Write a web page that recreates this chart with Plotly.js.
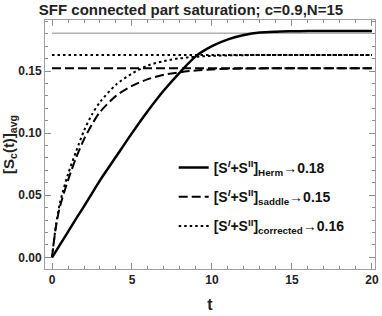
<!DOCTYPE html>
<html>
<head>
<meta charset="utf-8">
<script src="https://cdn.plot.ly/plotly-3.0.1.min.js"></script>
<style>html,body{margin:0;padding:0;background:#fff;}#chart{width:382px;height:316px;}</style>
</head>
<body>
<div id="chart"></div>
<script>
const t = [0,0.25,0.5,1,1.5,2,2.5,3,4,5,6,7,8,9,10,11,12,13,14,15,16,17,18,19,20];
const herm = [0,0.005,0.0102,0.0205,0.031,0.041,0.0515,0.062,0.081,0.100,0.118,0.1345,0.149,0.162,0.170,0.1755,0.179,0.181,0.1817,0.182,0.1822,0.1823,0.1823,0.1823,0.1823];
const saddle = [0,0.025,0.041,0.062,0.080,0.095,0.107,0.117,0.130,0.138,0.1435,0.147,0.149,0.1505,0.1513,0.1518,0.152,0.1521,0.1522,0.1522,0.1523,0.1523,0.1523,0.1523,0.1523];
const corrected = [0,0.026,0.044,0.067,0.085,0.102,0.115,0.125,0.139,0.148,0.1545,0.158,0.1603,0.1615,0.1622,0.1626,0.1628,0.1629,0.163,0.163,0.163,0.163,0.163,0.163,0.163];
const limitT = [0,20];
const hermLimit = 0.1805;
const saddleLimit = 0.1523;
const correctedLimit = 0.163;
const names = [
  "[S<sup><i>I</i></sup>+S<sup>II</sup>]<sub>Herm</sub>→0.18",
  "[S<sup><i>I</i></sup>+S<sup>II</sup>]<sub>saddle</sub>→0.15",
  "[S<sup><i>I</i></sup>+S<sup>II</sup>]<sub>corrected</sub>→0.16"
];
const xTicks = [0,5,10,15,20];
const yTicks = [0,0.05,0.10,0.15];
const yTickText = ["0.00","0.05","0.10","0.15"];

const FONT = "Liberation Sans Narrow, Arial Narrow, Liberation Sans, Arial, sans-serif";
const FONTW = "Liberation Sans, Arial, sans-serif";
const dashS = "9px,4px";
const dotS = "2.5px,3px";

const traces = [
  {x: limitT, y: limitT.map(()=>hermLimit), mode:'lines', line:{color:'#8a8a8a', width:1}, showlegend:false, hoverinfo:'skip'},
  {x: limitT, y: limitT.map(()=>saddleLimit), mode:'lines', line:{color:'#000', width:2, dash:dashS}, showlegend:false, hoverinfo:'skip'},
  {x: limitT, y: limitT.map(()=>correctedLimit), mode:'lines', line:{color:'#000', width:2, dash:dotS}, showlegend:false, hoverinfo:'skip'},
  {x: t, y: herm, name: names[0], mode:'lines', line:{color:'#000', width:2.5, shape:'spline', smoothing:0.8}, legendgroup:'a'},
  {x: t, y: saddle, name: names[1], mode:'lines', line:{color:'#000', width:2, dash:dashS, shape:'spline', smoothing:0.8}, legendgroup:'b'},
  {x: t, y: corrected, name: names[2], mode:'lines', line:{color:'#000', width:2, dash:dotS, shape:'spline', smoothing:0.8}, legendgroup:'c'}
];

const axisCommon = {
  showgrid:false, zeroline:false, showline:true, mirror:'ticks', linecolor:'#a0a0a0', linewidth:1,
  ticks:'inside', ticklen:6, tickwidth:1, tickcolor:'#8c8c8c',
  tickfont:{family:FONTW, size:12, color:'#222'}
};

const layout = {
  width:382, height:316,
  margin:{l:45, r:7, t:20, b:47},
  paper_bgcolor:'#fff', plot_bgcolor:'#fff',
  title:{text:'<b>SFF connected part saturation; c=0.9,N=15</b>', font:{family:FONT, size:15, color:'#222'}, x:0.5, xanchor:'center', y:0.985, yanchor:'top'},
  xaxis: Object.assign({}, axisCommon, {
    range:[-0.4375, 20.19], tickmode:'array', tickvals:xTicks, ticktext:xTicks.map(v=>'<b>'+v+'</b>'),
    minor:{dtick:1, ticks:'inside', ticklen:3, tickcolor:'#8c8c8c'},
    title:{text:'<b>t</b>', font:{family:FONTW, size:16, color:'#222'}, standoff:12}
  }),
  yaxis: Object.assign({}, axisCommon, {
    range:[-0.0094, 0.1911], tickmode:'array', tickvals:yTicks, ticktext:yTickText.map(v=>'<b>'+v+'</b>'),
    minor:{dtick:0.01, ticks:'inside', ticklen:3, tickcolor:'#8c8c8c'},
    title:{text:'<b>[S<sub>c</sub>(t)]<sub>avg</sub></b>', font:{family:FONTW, size:15, color:'#222'}, standoff:6}
  }),
  legend:{x:0.39, xanchor:'left', y:0.47, yanchor:'top', bgcolor:'rgba(0,0,0,0)', borderwidth:0,
    font:{family:FONTW, size:14, color:'#111', weight:'bold'}, tracegroupgap:8, itemwidth:30},
  showlegend:true
};

Plotly.newPlot('chart', traces, layout, {staticPlot:true, displayModeBar:false});
</script>
</body>
</html>
